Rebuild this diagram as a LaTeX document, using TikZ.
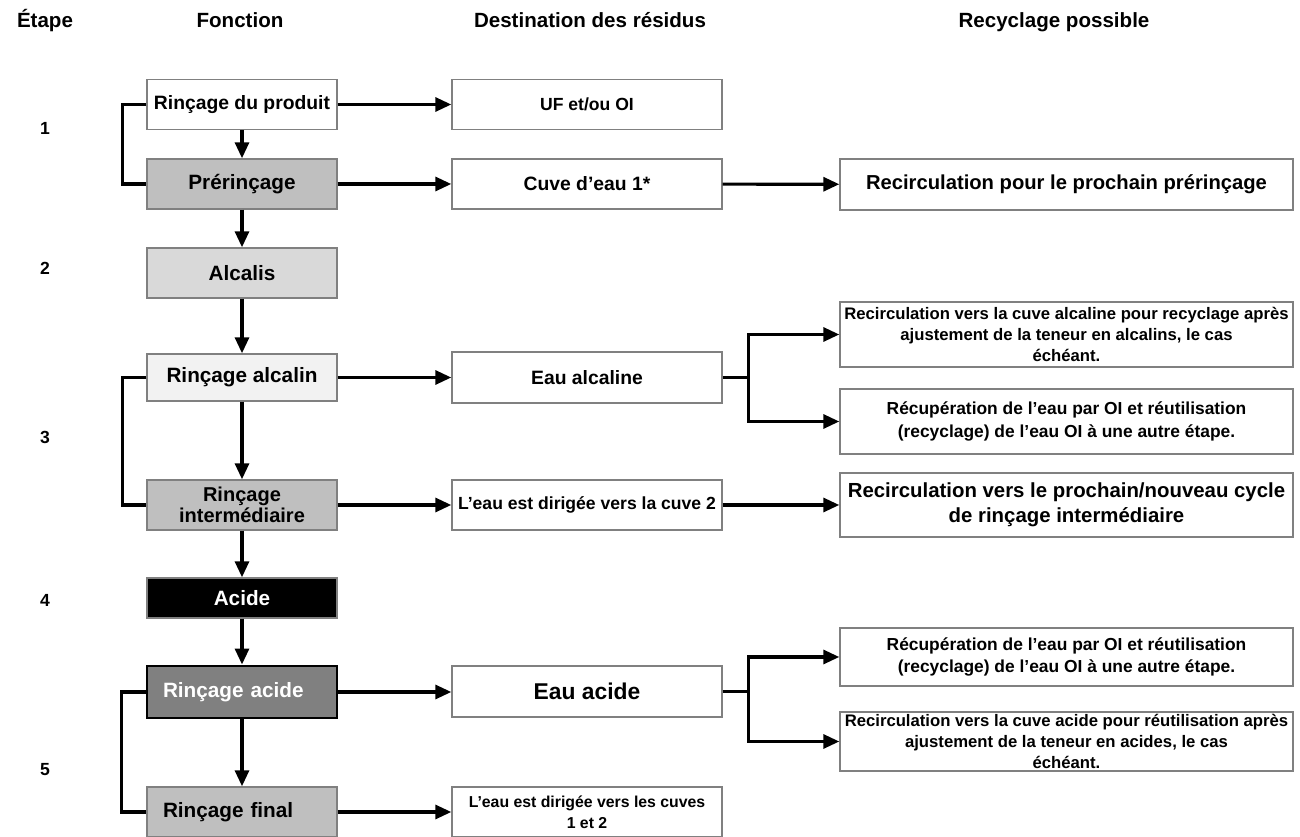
\documentclass[tikz,border=0pt]{standalone}
\usepackage{fontspec}
\setmainfont{Liberation Sans}
\usetikzlibrary{arrows.meta,positioning}
\definecolor{boxline}{gray}{0.5}
\definecolor{grisfonce}{gray}{0.5}
\definecolor{grismoyen}{gray}{0.75}
\definecolor{grisclair}{gray}{0.85}
\definecolor{grispale}{gray}{0.95}
\tikzset{
  box/.style={draw=boxline,line width=0.8pt,minimum height=1cm,align=center,inner sep=1pt,
              font=\bfseries\fontsize{11}{13}\selectfont},
  fbox/.style={box,minimum width=3.8cm,font=\bfseries\fontsize{11.8}{13}\selectfont},
  dbox/.style={box,minimum width=5.4cm},
  rbox/.style={box,minimum width=9.06cm,font=\bfseries\fontsize{9.5}{12}\selectfont},
  flow/.style={line width=1.8pt,-{Triangle[length=0.32cm,width=0.28cm]}},
  wire/.style={line width=1.8pt},
  head/.style={anchor=base,font=\bfseries\fontsize{11.7}{13}\selectfont},
  num/.style={font=\bfseries\fontsize{10}{12}\selectfont}
}
\begin{document}
\begin{tikzpicture}
      \useasboundingbox (0,0) rectangle (26,16.74); % page
      \node[head] (hetape) at (0.9,16.18) {Étape}; % headers
      \node[head] (hfonction) at (4.8,16.18) {Fonction};
      \node[head] (hdest) at (11.8,16.18) {Destination des résidus};
      \node[head] (hrecyc) at (21.08,16.18) {Recyclage possible};
      \node[num] (n1) at (0.9,14.18) {1}; % step numbers
      \node[num] (n2) at (0.9,11.38) {2};
      \node[num] (n3) at (0.9,8.0) {3};
      \node[num] (n4) at (0.9,4.74) {4};
      \node[num] (n5) at (0.9,1.34) {5};

%%% Fonction column
      \node[fbox,fill=white,font=\bfseries\fontsize{11}{13}\selectfont] (produit) at (4.84,14.65) {Rinçage du produit};
      \node[fbox,fill=grismoyen] (prerinc) at (4.84,13.06) {Prérinçage};
      \node[fbox,fill=grisclair] (alcalis) at (4.84,11.28) {Alcalis};
      \node[fbox,fill=grispale,minimum height=0.94cm] (ralcalin) at (4.84,9.19) {Rinçage alcalin};
      \node[fbox,fill=grismoyen,font=\bfseries\fontsize{11.4}{12}\selectfont] (rinter) at (4.84,6.64) {Rinçage\\intermédiaire};
      \node[fbox,fill=black,text=white,minimum height=0.8cm] (acide) at (4.84,4.78) {Acide};
      \node[fbox,fill=grisfonce,draw=black,line width=1.7pt,text=white,minimum height=1.04cm,
            text width=3.16cm,align=left] (racide) at (4.84,2.9) {Rinçage acide};
      \node[fbox,fill=grismoyen,text width=3.16cm,align=left] (rfinal) at (4.84,0.5) {Rinçage final};

%%% Destination column
      \node[dbox,font=\bfseries\fontsize{10}{12}\selectfont] (ufoi) at (11.74,14.65) {UF et/ou OI};
      \node[dbox] (cuve1) at (11.74,13.06) {Cuve d’eau 1*};
      \node[dbox,minimum height=1.02cm] (eaualc) at (11.74,9.19) {Eau alcaline};
      \node[dbox,font=\bfseries\fontsize{10}{12}\selectfont] (cuve2) at (11.74,6.64) {L’eau est dirigée vers la cuve 2};
      \node[dbox,minimum height=1.02cm,font=\bfseries\fontsize{13}{15}\selectfont] (eauacide) at (11.74,2.91) {Eau acide};
      \node[dbox,font=\bfseries\fontsize{9}{12}\selectfont] (cuves12) at (11.74,0.5) {L’eau est dirigée vers les cuves\\1 et 2};

%%% Recyclage column
      \node[rbox,minimum height=1.02cm,font=\bfseries\fontsize{11.5}{13}\selectfont] (recpre) at (21.33,13.05) {Recirculation pour le prochain prérinçage};
      \node[rbox,minimum height=1.3cm] (recalc) at (21.33,10.05) {Recirculation vers la cuve alcaline pour recyclage après\\ajustement de la teneur en alcalins, le cas\\échéant.};
      \node[rbox,minimum height=1.3cm,font=\bfseries\fontsize{9.9}{13}\selectfont] (recupalc) at (21.33,8.31) {Récupération de l’eau par OI et réutilisation\\(recyclage) de l’eau OI à une autre étape.};
      \node[rbox,minimum height=1.28cm,font=\bfseries\fontsize{11.6}{14}\selectfont] (recinter) at (21.33,6.64) {Recirculation vers le prochain/nouveau cycle\\de rinçage intermédiaire};
      \node[rbox,minimum height=1.16cm,font=\bfseries\fontsize{9.9}{13}\selectfont] (recupacide) at (21.33,3.6) {Récupération de l’eau par OI et réutilisation\\(recyclage) de l’eau OI à une autre étape.};
      \node[rbox,minimum height=1.18cm] (recacide) at (21.33,1.91) {Recirculation vers la cuve acide pour réutilisation après\\ajustement de la teneur en acides, le cas\\échéant.};

%%% Wiring
      \draw[flow] (produit) -- (prerinc); % down arrows
      \draw[flow] (prerinc) -- (alcalis);
      \draw[flow] (alcalis) -- (ralcalin);
      \draw[flow] (ralcalin) -- (rinter);
      \draw[flow] (rinter) -- (acide);
      \draw[flow] (acide) -- (racide);
      \draw[flow] (racide) -- (rfinal);
      \draw[wire] (produit.west) -- ++(-0.48,0) |- (prerinc.west); % loops
      \draw[wire] (ralcalin.west) -- ++(-0.48,0) |- (rinter.west);
      \draw[wire] (racide.west) -- ++(-0.48,0) |- (rfinal.west);
      \draw[flow] (produit) -- (ufoi); % to residues
      \draw[flow] (prerinc) -- (cuve1);
      \draw[flow] (ralcalin.east) -- (ralcalin.east -| eaualc.west);
      \draw[flow] (rinter) -- (cuve2);
      \draw[flow] (racide.east) -- (racide.east -| eauacide.west);
      \draw[flow] (rfinal) -- (cuves12);
      \draw[flow] (cuve1) -- (recpre); % to recycling
      \draw[flow] (cuve2) -- (recinter);
      \draw[wire] (eaualc.east) -- ++(0.52,0) coordinate (balc); % branch alcaline
      \draw[flow] (balc) |- (recalc.west);
      \draw[flow] (balc) |- (recupalc.west);
      \draw[wire] (eauacide.east) -- ++(0.52,0) coordinate (bacide); % branch acide
      \draw[flow] (bacide) |- (recupacide.west);
      \draw[flow] (bacide) |- (recacide.west);
\end{tikzpicture}
\end{document}
